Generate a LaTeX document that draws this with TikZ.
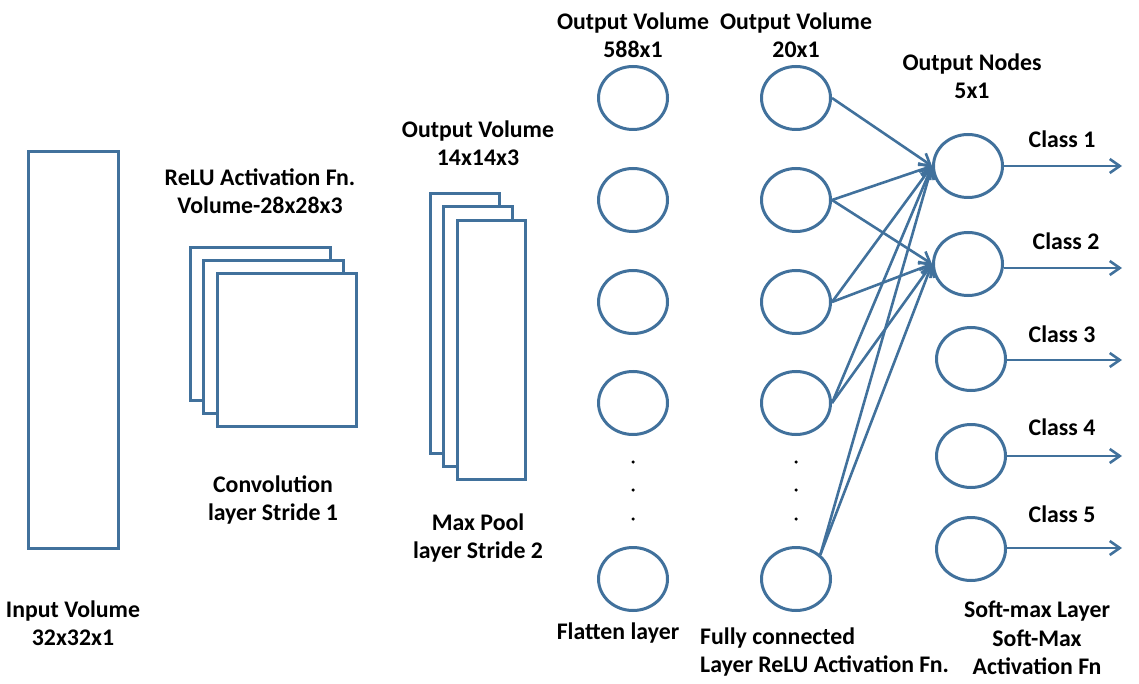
\documentclass[tikz,border=0pt]{standalone}
\usepackage{fontspec}
\setmainfont{Carlito}
\usetikzlibrary{arrows.meta,shapes.geometric}
\definecolor{nnblue}{HTML}{41719C}
\tikzset{
  box/.style={draw=nnblue,line width=3pt,fill=white},
  neuron/.style={ellipse,draw=nnblue,line width=3pt,minimum width=69pt,minimum height=63pt,inner sep=0pt},
  lbl/.style={font=\fontsize{23.8}{28.5}\selectfont\bfseries,align=center,inner sep=0pt,text=black},
  edge/.style={draw=nnblue,line width=2.6pt,-{Straight Barb[length=10pt,width=14pt]}},
  dotmark/.style={circle,fill=black,minimum size=3.5pt,inner sep=0pt}
}
\begin{document}
\begin{tikzpicture}[x=1pt,y=-1pt]
\useasboundingbox (0,0) rectangle (1139,684);
% input volume
\draw[box] (28,152) rectangle (118,548);
% conv stack
\draw[box] (190,248) rectangle (330,400);
\draw[box] (203,261) rectangle (343,413);
\draw[box] (217,274) rectangle (356,426);
% max pool stack
\draw[box] (430,194) rectangle (499,453);
\draw[box] (443,207) rectangle (512,466);
\draw[box] (457,221) rectangle (525,479);
% flatten and fully connected layers
\foreach \i/\y in {1/98,2/200,3/302,4/403,5/579}{
  \node[neuron] (fl\i) at (633,\y) {};
  \node[neuron] (fc\i) at (796,\y) {};
}
\foreach \y [count=\k] in {462,490,519}{
  \node[dotmark] (fld\k) at (633,\y) {};
  \node[dotmark] (fcd\k) at (796,\y) {};
}
% output nodes
\node[neuron] (o1) at (968,166) {};
\node[neuron] (o2) at (968,264) {};
\node[neuron] (o3) at (971,359) {};
\node[neuron] (o4) at (971,456) {};
\node[neuron] (o5) at (971,549) {};
\coordinate (c1) at (1122,166);
\coordinate (c2) at (1122,268);
\coordinate (c3) at (1122,360);
\coordinate (c4) at (1122,456);
\coordinate (c5) at (1122,548);
\foreach \i in {1,...,5}{
  \draw[edge] (o\i.east |- c\i) -- (c\i);
}
% fully connected edges
\draw[edge] (fc1.east) -- (o1.west);
\foreach \i in {2,3,4}{
  \draw[edge] (fc\i.east) -- (o1.west);
  \draw[edge] (fc\i.east) -- (o2.west);
}
\draw[edge] (fc5.45) -- (o1.west);
\draw[edge] (fc5.45) -- (o2.west);
% labels
\node[lbl] (tin) at (73,623) {Input Volume\\32x32x1};
\node[lbl] (trelu) at (260,191) {ReLU Activation Fn.\\Volume-28x28x3};
\node[lbl] (tconv) at (273,500) {Convolution\\layer Stride 1};
\node[lbl] (tmpv) at (478,143) {Output Volume\\14x14x3};
\node[lbl] (tmp) at (478,538) {Max Pool\\layer Stride 2};
\node[lbl] (tflv) at (633,35) {Output Volume\\588x1};
\node[lbl] (tfcv) at (796,35) {Output Volume\\20x1};
\node[lbl] (tout) at (972,76) {Output Nodes\\5x1};
\node[lbl] (k1) at (1062,139) {Class 1};
\node[lbl] (k2) at (1066,241) {Class 2};
\node[lbl] (k3) at (1062,334) {Class 3};
\node[lbl] (k4) at (1062,427) {Class 4};
\node[lbl] (k5) at (1062,514) {Class 5};
\node[lbl] (tfl) at (618,633) {Flatten layer};
\node[lbl,align=left,anchor=west] (tfc) at (700,652) {Fully connected\\Layer ReLU Activation Fn.};
\node[lbl] (tsm) at (1037,638) {Soft-max Layer\\Soft-Max\\Activation Fn};
\end{tikzpicture}
\end{document}
